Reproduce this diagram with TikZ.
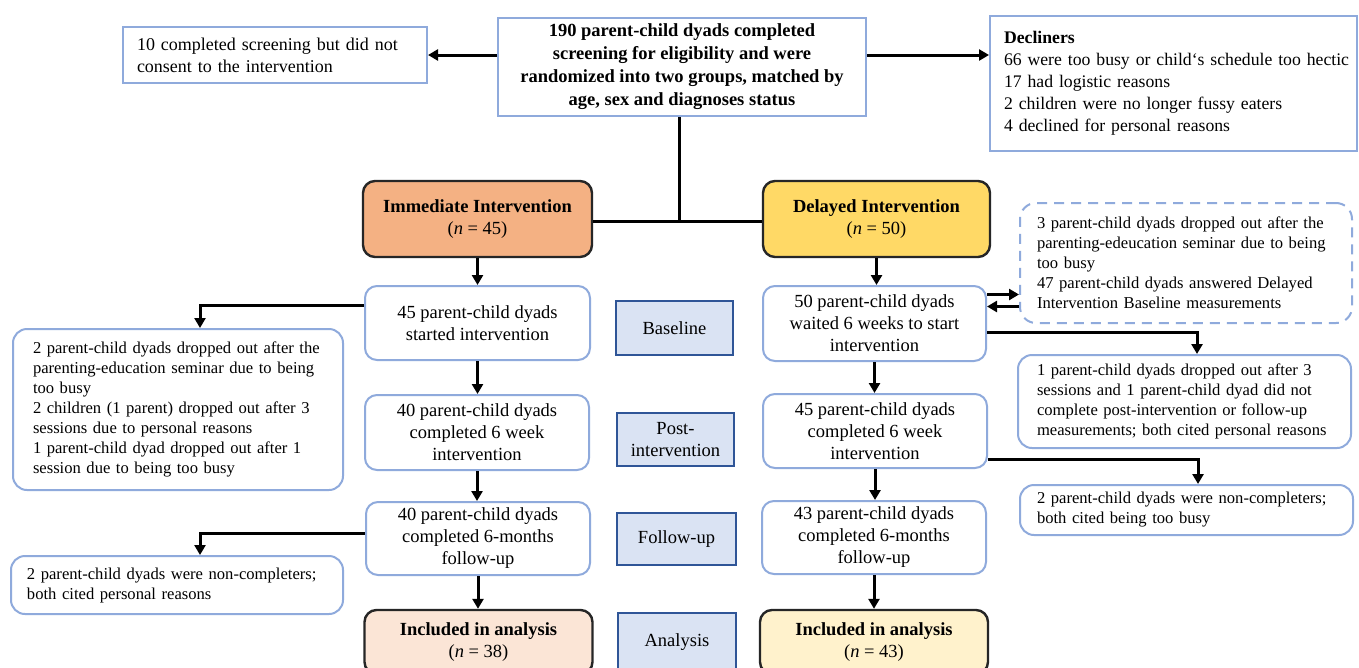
\documentclass[tikz,border=0pt]{standalone}
\usepackage{fontspec}
\setmainfont{Liberation Serif}
\usetikzlibrary{arrows.meta,calc}
\definecolor{bbord}{HTML}{8FAADC}
\definecolor{lblfill}{HTML}{DAE3F3}
\definecolor{lblbord}{HTML}{2F5597}
\definecolor{immfill}{HTML}{F4B183}
\definecolor{delfill}{HTML}{FFD966}
\definecolor{imminc}{HTML}{FBE5D6}
\definecolor{delinc}{HTML}{FFF2CC}
\definecolor{darkbord}{HTML}{262626}
\tikzset{
  big/.style={font=\fontsize{18.5}{22}\selectfont},
  small/.style={font=\fontsize{16.6}{20}\selectfont},
  sqbox/.style={draw=bbord, line width=2pt, inner sep=0pt},
  flowbox/.style={draw=bbord, line width=2pt, rounded corners=12pt, inner sep=0pt, align=center, big},
  sidebox/.style={draw=bbord, line width=2pt, rounded corners=14pt, inner sep=0pt, align=left, small},
  lblbox/.style={draw=lblbord, fill=lblfill, line width=2.4pt, inner sep=0pt, align=center, big},
  grpbox/.style={draw=darkbord, line width=2.4pt, rounded corners=12pt, inner sep=0pt, align=center, big},
  conn/.style={line width=3pt, line join=miter, -{Triangle[length=10pt,width=11pt]}},
  link/.style={line width=3pt, line join=miter},
  wh/.style 2 args={minimum width=#1, minimum height=#2}
}
\begin{document}
\begin{tikzpicture}[x=1pt,y=-1pt]
\useasboundingbox (0,0) rectangle (1359,667);
\fill[white] (0,0) rectangle (1359,667);

% top row
\node[sqbox, wh={304}{56}, text width=276, align=left, font=\fontsize{18}{22}\selectfont] (excl) at (275,55)
  {\mbox{10 completed screening but did not}\\consent to the intervention};
\node[sqbox, wh={368}{98}, align=center, font=\fontsize{18.5}{23}\selectfont\bfseries] (ctr) at (682,67)
  {190 parent-child dyads completed\\screening for eligibility and were\\randomized into two groups, matched by\\age, sex and diagnoses status};
\node[sqbox, wh={367}{135}, text width=339, align=left, font=\fontsize{17.7}{22}\selectfont] (decl) at (1173.5,83.5)
  {\textbf{Decliners}\\\mbox{66 were too busy or child`s schedule too hectic}\\17 had logistic reasons\\2 children were no longer fussy eaters\\4 declined for personal reasons};

% groups
\node[grpbox, fill=immfill, wh={229}{76}] (imm) at (477.5,219) {\textbf{Immediate Intervention}\\(\textit{n} = 45)};
\node[grpbox, fill=delfill, wh={227}{76}] (del) at (876.5,219) {\textbf{Delayed Intervention}\\(\textit{n} = 50)};

% left column
\node[flowbox, wh={225}{74}] (bl) at (477.5,323) {45 parent-child dyads\\started intervention};
\node[sidebox, wh={330}{161}, text width=290] (bigL) at (178,409.5)
  {\mbox{2 parent-child dyads dropped out after the}\\\mbox{parenting-education seminar due to being}\\too busy\\\mbox{2 children (1 parent) dropped out after 3}\\sessions due to personal reasons\\\mbox{1 parent-child dyad dropped out after 1}\\session due to being too busy};
\node[flowbox, wh={224}{75}] (pl) at (477,432.5) {40 parent-child dyads\\completed 6 week\\intervention};
\node[flowbox, wh={224}{73}] (fl) at (478,538.5) {40 parent-child dyads\\completed 6-months\\follow-up};
\node[sidebox, wh={332}{58}, text width=300] (ncL) at (177,585)
  {\mbox{2 parent-child dyads were non-completers;}\\both cited personal reasons};
\node[grpbox, fill=imminc, wh={228}{64}] (incL) at (478.5,642) {\textbf{Included in analysis}\\(\textit{n} = 38)};

% labels
\node[lblbox, wh={117}{54}] (lb1) at (674.5,328) {Baseline};
\node[lblbox, wh={117}{53}] (lb2) at (675.5,439.5) {Post-\\intervention};
\node[lblbox, wh={119}{52}] (lb3) at (676.5,539) {Follow-up};
\node[lblbox, wh={118}{58}] (lb4) at (677,642) {Analysis};

% right column
\node[flowbox, wh={223}{75}] (db) at (874.5,323.5) {50 parent-child dyads\\waited 6 weeks to start\\intervention};
\node[sidebox, dashed, dash pattern=on 10pt off 7pt, rounded corners=16pt, wh={332}{120}, text width=298] (dsh) at (1186,263)
  {\mbox{3 parent-child dyads dropped out after the}\\\mbox{parenting-edeucation seminar due to being}\\too busy\\\mbox{47 parent-child dyads answered Delayed}\\\mbox{Intervention Baseline measurements}};
\node[sidebox, wh={333}{93}, text width=295] (one) at (1184.5,401.5)
  {\mbox{1 parent-child dyads dropped out after 3}\\\mbox{sessions and 1 parent-child dyad did not}\\\mbox{complete post-intervention or follow-up}\\\mbox{measurements; both cited personal reasons}};
\node[flowbox, wh={224}{74}] (dp) at (875,431) {45 parent-child dyads\\completed 6 week\\intervention};
\node[sidebox, wh={333}{50}, text width=299] (two) at (1186.5,510)
  {\mbox{2 parent-child dyads were non-completers;}\\both cited being too busy};
\node[flowbox, wh={224}{73}] (dfu) at (874,537.5) {43 parent-child dyads\\completed 6-months\\follow-up};
\node[grpbox, fill=delinc, wh={228}{64}] (dinc) at (874,642) {\textbf{Included in analysis}\\(\textit{n} = 43)};

% connectors
\coordinate (j) at (679,221);
\draw[conn] (ctr.west |- excl.east) -- (excl.east);
\draw[conn] (ctr.east |- excl.east) -- (decl.west |- excl.east);
\draw[link] (ctr.south -| j) -- (j);
\draw[link] (imm.east |- j) -- (del.west |- j);
\draw[conn] (imm.south) -- (imm.south |- bl.north);
\draw[conn] ($(bl.west)+(0,-18)$) -| ($(bigL.north)+(22,0)$);
\draw[conn] (bl.south) -- (bl.south |- pl.north);
\draw[conn] (pl.south) -- (pl.south |- fl.north);
\draw[conn] ($(fl.west)+(0,-5)$) -| ($(ncL.north)+(23,0)$);
\draw[conn] (fl.south) -- (fl.south |- incL.north);
\draw[conn] (del.south) -- (del.south |- db.north);
\coordinate (a1) at ($(db.east)+(0,-29)$);
\coordinate (a2) at ($(db.east)+(0,-17)$);
\draw[conn] (a1) -- (a1 -| dsh.west);
\draw[conn] (a2 -| dsh.west) -- (a2);
\draw[conn] ($(db.east)+(0,9)$) -| ($(one.north)+(12.5,0)$);
\draw[conn] (db.south) -- (db.south |- dp.north);
\draw[conn] ($(dp.east)+(0,28)$) -| ($(two.north)+(11.5,0)$);
\draw[conn] (dp.south) -- (dp.south |- dfu.north);
\draw[conn] (dfu.south) -- (dfu.south |- dinc.north);
\end{tikzpicture}
\end{document}
